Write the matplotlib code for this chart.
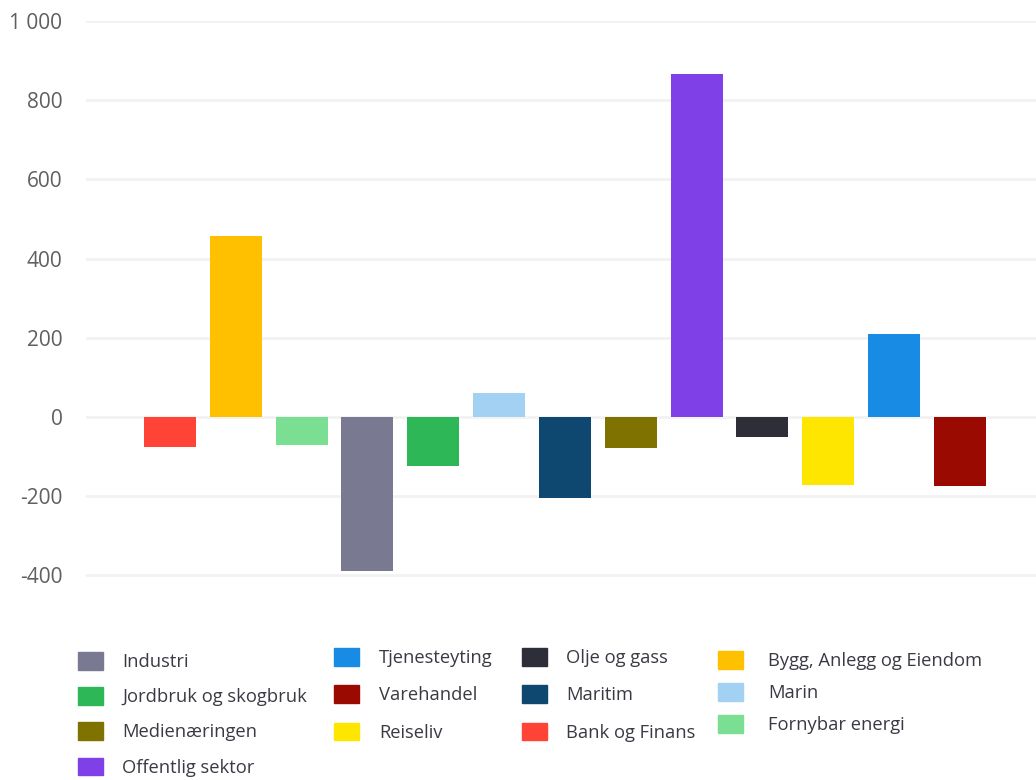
import matplotlib.pyplot as plt
import matplotlib.ticker as mtick
from matplotlib.patches import Patch

## -------------------------------------------------------------------------- ##
sectors = ['Bank og Finans', 'Bygg, Anlegg og Eiendom', 'Fornybar energi',
           'Industri', 'Jordbruk og skogbruk', 'Marin', 'Maritim',
           'Medienæringen', 'Offentlig sektor', 'Olje og gass', 'Reiseliv',
           'Tjenesteyting', 'Varehandel']
values = [-77, 457, -70, -390, -123, 61, -206, -78, 866, -50, -172, 210, -174]
colors = ['#FF4336', '#FFC000', '#7ADF93', '#797991', '#2DB757', '#A3D1F4',
          '#0E4770', '#7F7200', '#7F41E7', '#2E2E38', '#FFE600', '#188CE5',
          '#9A0A00']
yticks = [-400, -200, 0, 200, 400, 600, 800, 1000]

# legend columns as in the original layout
legend_cols = [
    ['Industri', 'Jordbruk og skogbruk', 'Medienæringen', 'Offentlig sektor'],
    ['Tjenesteyting', 'Varehandel', 'Reiseliv'],
    ['Olje og gass', 'Maritim', 'Bank og Finans'],
    ['Bygg, Anlegg og Eiendom', 'Marin', 'Fornybar energi'],
]
## -------------------------------------------------------------------------- ##
plt.rcParams['font.family'] = ['Open Sans', 'DejaVu Sans']

W, H = 1036, 780
fig = plt.figure(figsize=(W / 100, H / 100), dpi=100)
ax = fig.add_axes([86 / W, 1 - 595 / H, (1036 - 86) / W, (595 - 21) / H])

xpos = list(range(len(sectors)))
ax.bar(xpos, values, width=0.79, color=colors, zorder=2)

ax.set_ylim(-450, 1000)
ax.set_xlim(-1.276, 13.155)
ax.set_yticks(yticks)
ax.yaxis.set_major_formatter(
    mtick.FuncFormatter(lambda v, p: '{:,.0f}'.format(v).replace(',', ' ')))
ax.set_xticks([])
ax.grid(True, axis='y', color='#F2F2F2', lw=2, zorder=0)
for s in ax.spines.values():
    s.set_visible(False)
ax.tick_params(axis='y', length=0, pad=17, labelsize=15, labelcolor='#5F5F5F')

color_of = dict(zip(sectors, colors))
col_x = [78, 334, 522, 718]
col_y = [652, 648, 648, 651]
col_space = [0.88, 1.0, 1.0, 0.72]
col_pad = [1.05, 1.1, 1.05, 1.4]
for names, x, y, sp, tp in zip(legend_cols, col_x, col_y, col_space, col_pad):
    handles = [Patch(color=color_of[n]) for n in names]
    fig.legend(handles, names, loc='upper left',
               bbox_to_anchor=(x / W, 1 - y / H), frameon=False,
               fontsize=13.2, labelcolor='#3A3A44', borderpad=0,
               borderaxespad=0, handlelength=1.35, handleheight=1.1,
               handletextpad=tp, labelspacing=sp)

fig.savefig('out.png', dpi=100)
